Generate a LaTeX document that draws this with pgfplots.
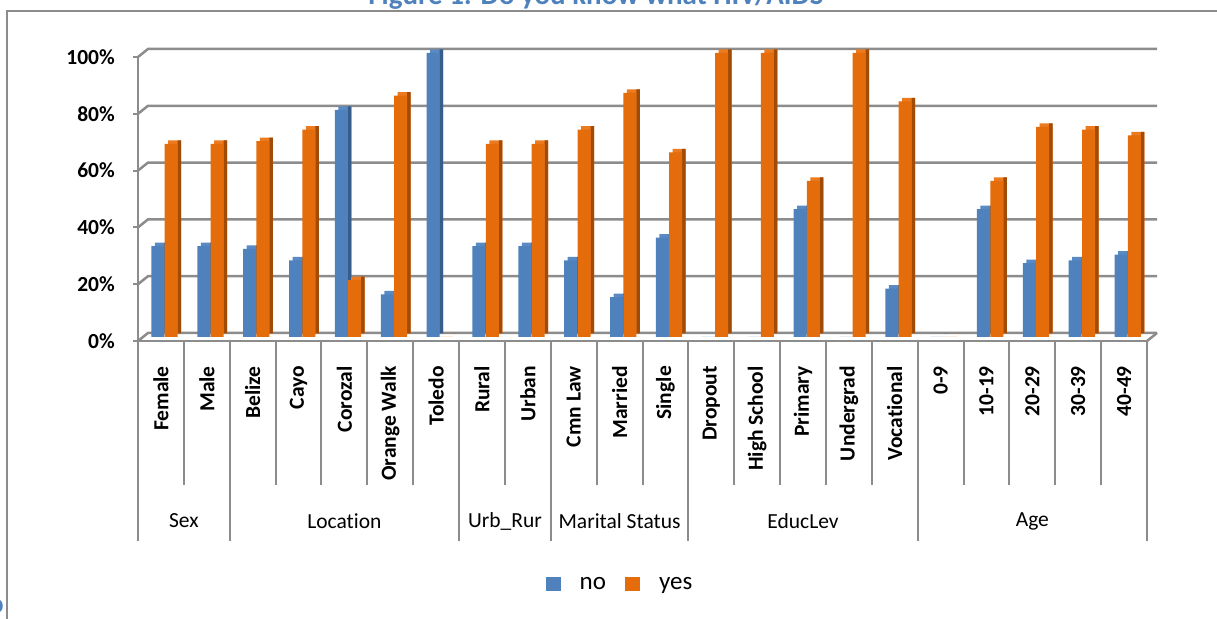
\documentclass[border=0pt]{standalone}
\usepackage{pgfplots}
\usepackage{pgfplotstable}
\pgfplotsset{compat=1.18}
\usepackage{fontspec}
\setmainfont{Carlito}[Ligatures={NoCommon}]
\definecolor{cblue}{HTML}{4F81BD}
\definecolor{cbluet}{HTML}{5A8AC4}
\definecolor{cblued}{HTML}{385D8A}
\definecolor{corange}{HTML}{E46C0A}
\definecolor{coranget}{HTML}{EC7A1E}
\definecolor{coranged}{HTML}{A04B08}
\definecolor{gridc}{HTML}{8C8C8C}
\definecolor{titleblue}{HTML}{4F81BD}
\pgfplotstableread{
x no yes
0 32 68
1 32 68
2 31 69
3 27 73
4 80 20
5 15 85
6 100 0
7 32 68
8 32 68
9 27 73
10 14 86
11 35 65
12 0 100
13 0 100
14 45 55
15 0 100
16 17 83
17 0 0
18 45 55
19 26 74
20 27 73
21 29 71
}\data
\newcommand{\lbl}{\fontsize{21.5}{25}\selectfont}
\begin{document}
\begin{tikzpicture}[x=1pt,y=1pt]
\draw[gridc, line width=2.5pt] (7,-10) -- (7,607) -- (1230,607);
\node[anchor=base, text=titleblue, font=\fontsize{29}{34}\selectfont\bfseries] at (596,613) {Figure 1: Do you know what HIV/AIDS};
\node[anchor=base east, text=titleblue, font=\fontsize{29}{34}\selectfont\bfseries, inner sep=0pt] at (4,5) {o};
\begin{axis}[
  set layers,
  at={(138pt,277pt)}, anchor=south west,
  scale only axis, width=1009pt, height=284pt,
  xmin=-0.5, xmax=21.5, ymin=0, ymax=100,
  clip=false,
  axis lines*=left,
  axis line style={gridc, line width=2.5pt},
  tick align=outside, major tick length=5pt,
  ytick={0,20,...,100},
  yticklabels={0\%,20\%,40\%,60\%,80\%,100\%},
  ytick style={gridc, line width=2pt},
  yticklabel style={font=\lbl\bfseries, inner sep=0pt},
  yticklabel shift=18pt,
  xtick={0,...,21},
  xticklabels={Female,Male,Belize,Cayo,Corozal,Orange Walk,Toledo,Rural,Urban,Cmn Law,Married,Single,Dropout,High School,Primary,Undergrad,Vocational,0-9,10-19,20-29,30-39,40-49},
  xtick style={draw=none},
  xticklabel style={font=\lbl\bfseries, rotate=90, anchor=east, inner sep=0pt},
  xticklabel shift=20pt,
  legend image code/.code={\fill[#1, draw=none] (0pt,-7pt) rectangle (15pt,7pt);},
  legend columns=2,
  legend style={at={(0.4767,-0.856)}, anchor=center, draw=none, fill=none,
    font=\fontsize{25}{30}\selectfont, /tikz/column sep=19pt, nodes={inner sep=0pt}},
]
\begin{pgfonlayer}{axis background}
\pgfplotsinvokeforeach{0,20,40,60,80,100}{
  \draw[gridc, line width=2.5pt] (axis cs:-0.5,#1) -- ++(10pt,8pt) -- ([shift={(10pt,8pt)}]axis cs:21.5,#1);
}
\draw[gridc, line width=2.5pt] (axis cs:21.5,0) -- ++(10pt,8pt);
\end{pgfonlayer}
\pgfplotsinvokeforeach{0.5,2.5,3.5,4.5,5.5,7.5,9.5,10.5,12.5,13.5,14.5,15.5,17.5,18.5,19.5,20.5}{
  \draw[gridc, line width=2pt] (axis cs:#1,0) -- ++(0pt,-144pt);
}
\pgfplotsinvokeforeach{-0.5,1.5,6.5,8.5,11.5,16.5,21.5}{
  \draw[gridc, line width=2pt] (axis cs:#1,0) -- ++(0pt,-200pt);
}
\node[font=\lbl] at ([yshift=-180pt]axis cs:0.5,0) {Sex};
\node[font=\lbl] at ([yshift=-180pt]axis cs:4,0) {Location};
\node[font=\lbl] at ([yshift=-180pt]axis cs:7.5,0) {Urb\_Rur};
\node[font=\lbl] at ([yshift=-180pt]axis cs:10,0) {Marital Status};
\node[font=\lbl] at ([yshift=-180pt]axis cs:14,0) {EducLev};
\node[font=\lbl] at ([yshift=-180pt]axis cs:19,0) {Age};
% top faces
\addplot[ybar, bar width=13pt, bar shift=0.5pt, fill=cbluet, draw=none, yshift=7.5pt, forget plot] table[x=x,y=no]{\data};
\addplot[ybar, bar width=13pt, bar shift=13.8pt, fill=coranget, draw=none, yshift=7.5pt, forget plot] table[x=x,y=yes]{\data};
% side faces
\addplot[ybar, bar width=3.5pt, bar shift=5.25pt, fill=cblued, draw=none, yshift=7.5pt, forget plot] table[x=x,y=no]{\data};
\addplot[ybar, bar width=3.5pt, bar shift=18.55pt, fill=coranged, draw=none, yshift=7.5pt, forget plot] table[x=x,y=yes]{\data};
% front faces
\addplot[ybar, bar width=13pt, bar shift=-3pt, fill=cblue, draw=none, yshift=4pt, forget plot] table[x=x,y=no]{\data};
\addplot[ybar, bar width=13pt, bar shift=10.3pt, fill=corange, draw=none, yshift=4pt, forget plot] table[x=x,y=yes]{\data};
\addlegendimage{fill=cblue}
\addlegendentry{no}
\addlegendimage{fill=corange}
\addlegendentry{yes}
\end{axis}
\pgfresetboundingbox
\useasboundingbox (0,0) rectangle (1217,618);
\end{tikzpicture}
\end{document}
